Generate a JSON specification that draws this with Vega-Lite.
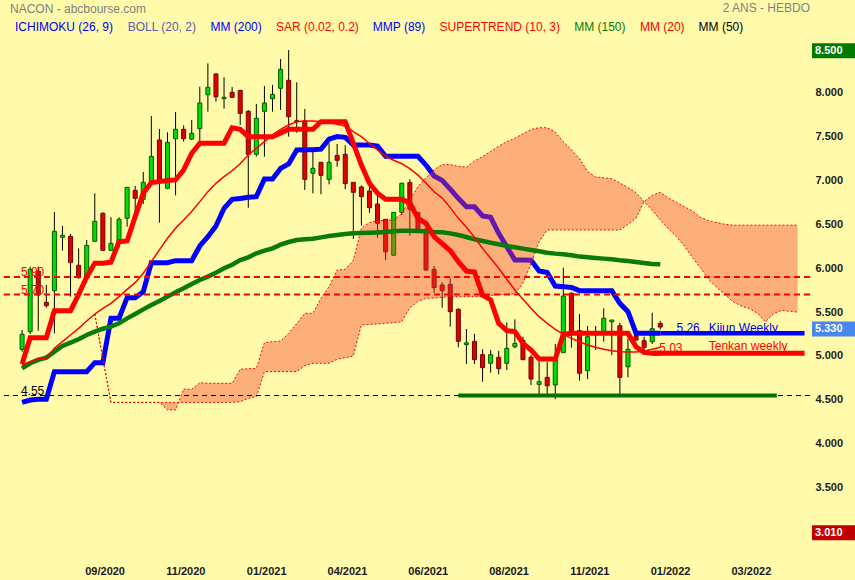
{
  "$schema": "https://vega.github.io/schema/vega-lite/v6.json",
  "width": 810,
  "height": 580,
  "autosize": {"type": "none"},
  "padding": {"left": 0, "top": 0, "right": 45, "bottom": 0},
  "title": {"text": "2 ANS - HEBDO", "anchor": "end", "frame": "group", "offset": -15, "color": "#808080", "fontSize": 12, "fontWeight": "normal", "font": "Liberation Sans"},
  "config": {
    "background": "#fffbaa",
    "view": {"stroke": null},
    "font": "Liberation Sans",
    "axis": {"grid": false, "domain": false, "ticks": false, "labelFont": "Liberation Sans", "labelFontSize": 11, "labelFontWeight": "bold", "labelColor": "#1a1a1a", "title": null}
  },
  "datasets": {
    "weeks": [
      {"d":"2020-06-29","o":5.076,"h":5.296,"l":5.049,"c":5.247,"tk":4.909,"kj":4.472,"m20":4.897,"m150":4.86},
      {"d":"2020-07-06","o":5.277,"h":6.017,"l":5.251,"c":5.987,"tk":5.209,"kj":4.499,"m20":4.935,"m150":4.917},
      {"d":"2020-07-13","o":5.968,"h":6.017,"l":5.288,"c":5.695,"tk":5.209,"kj":4.507,"m20":4.973,"m150":4.955},
      {"d":"2020-07-20","o":5.611,"h":5.809,"l":5.55,"c":5.573,"tk":5.209,"kj":4.507,"m20":4.973,"m150":4.981},
      {"d":"2020-07-27","o":5.744,"h":6.64,"l":5.258,"c":6.42,"tk":5.516,"kj":4.822,"m20":5.087,"m150":5.049},
      {"d":"2020-08-03","o":6.352,"h":6.481,"l":6.2,"c":6.375,"tk":5.516,"kj":4.822,"m20":5.163,"m150":5.114},
      {"d":"2020-08-10","o":6.363,"h":6.39,"l":5.676,"c":6.063,"tk":5.516,"kj":4.822,"m20":5.239,"m150":5.152},
      {"d":"2020-08-17","o":6.033,"h":6.226,"l":5.88,"c":5.892,"tk":5.7,"kj":4.822,"m20":5.315,"m150":5.19},
      {"d":"2020-08-24","o":5.896,"h":6.321,"l":5.884,"c":6.26,"tk":5.9,"kj":4.822,"m20":5.399,"m150":5.239},
      {"d":"2020-08-31","o":6.306,"h":6.853,"l":6.3,"c":6.534,"tk":6.056,"kj":4.924,"m20":5.478,"m150":5.277},
      {"d":"2020-09-07","o":6.625,"h":6.636,"l":6.204,"c":6.204,"tk":6.056,"kj":4.924,"m20":5.543,"m150":5.311},
      {"d":"2020-09-14","o":6.204,"h":6.58,"l":6.2,"c":6.283,"tk":6.067,"kj":5.429,"m20":5.6,"m150":5.334},
      {"d":"2020-09-21","o":6.295,"h":6.58,"l":6.238,"c":6.557,"tk":6.302,"kj":5.429,"m20":5.676,"m150":5.372},
      {"d":"2020-09-28","o":6.568,"h":6.921,"l":6.473,"c":6.921,"tk":6.31,"kj":5.664,"m20":5.759,"m150":5.429},
      {"d":"2020-10-05","o":6.887,"h":6.937,"l":6.587,"c":6.796,"tk":6.587,"kj":5.664,"m20":5.835,"m150":5.478},
      {"d":"2020-10-12","o":6.784,"h":7.096,"l":6.731,"c":6.978,"tk":6.853,"kj":5.732,"m20":5.942,"m150":5.531},
      {"d":"2020-10-19","o":6.978,"h":7.733,"l":6.967,"c":7.274,"tk":6.975,"kj":6.063,"m20":6.075,"m150":5.58},
      {"d":"2020-10-26","o":7.46,"h":7.585,"l":6.518,"c":7.001,"tk":6.986,"kj":6.063,"m20":6.208,"m150":5.626},
      {"d":"2020-11-02","o":6.91,"h":7.547,"l":6.9,"c":7.433,"tk":6.998,"kj":6.063,"m20":6.341,"m150":5.676},
      {"d":"2020-11-09","o":7.475,"h":7.779,"l":6.83,"c":7.582,"tk":7.005,"kj":6.086,"m20":6.455,"m150":5.725},
      {"d":"2020-11-16","o":7.582,"h":7.627,"l":7.441,"c":7.475,"tk":7.119,"kj":6.086,"m20":6.55,"m150":5.771},
      {"d":"2020-11-23","o":7.471,"h":7.688,"l":7.46,"c":7.536,"tk":7.309,"kj":6.086,"m20":6.645,"m150":5.82},
      {"d":"2020-11-30","o":7.589,"h":8.067,"l":7.384,"c":7.882,"tk":7.423,"kj":6.253,"m20":6.758,"m150":5.866},
      {"d":"2020-12-07","o":7.976,"h":8.333,"l":7.783,"c":8.06,"tk":7.423,"kj":6.359,"m20":6.872,"m150":5.904},
      {"d":"2020-12-14","o":8.212,"h":8.22,"l":7.897,"c":7.953,"tk":7.423,"kj":6.481,"m20":6.967,"m150":5.949},
      {"d":"2020-12-21","o":7.931,"h":8.174,"l":7.817,"c":7.946,"tk":7.423,"kj":6.682,"m20":7.043,"m150":5.999},
      {"d":"2020-12-28","o":8.003,"h":8.064,"l":7.94,"c":7.946,"tk":7.6,"kj":6.784,"m20":7.11,"m150":6.04},
      {"d":"2021-01-04","o":8.026,"h":8.03,"l":7.631,"c":7.764,"tk":7.582,"kj":6.795,"m20":7.19,"m150":6.093},
      {"d":"2021-01-11","o":7.787,"h":7.8,"l":6.689,"c":7.297,"tk":7.498,"kj":6.807,"m20":7.29,"m150":6.124},
      {"d":"2021-01-18","o":7.297,"h":7.87,"l":7.271,"c":7.707,"tk":7.498,"kj":6.815,"m20":7.366,"m150":6.17},
      {"d":"2021-01-25","o":7.787,"h":8.075,"l":7.271,"c":7.882,"tk":7.498,"kj":7.016,"m20":7.442,"m150":6.2},
      {"d":"2021-02-01","o":7.931,"h":8.087,"l":7.783,"c":7.98,"tk":7.498,"kj":7.016,"m20":7.518,"m150":6.226},
      {"d":"2021-02-08","o":8.049,"h":8.383,"l":7.802,"c":8.265,"tk":7.54,"kj":7.137,"m20":7.582,"m150":6.268},
      {"d":"2021-02-15","o":8.14,"h":8.485,"l":7.498,"c":7.726,"tk":7.582,"kj":7.188,"m20":7.631,"m150":6.298},
      {"d":"2021-02-22","o":7.68,"h":8.117,"l":7.543,"c":7.67,"tk":7.582,"kj":7.347,"m20":7.669,"m150":6.321},
      {"d":"2021-03-01","o":7.677,"h":7.813,"l":6.891,"c":7.012,"tk":7.582,"kj":7.35,"m20":7.677,"m150":6.329},
      {"d":"2021-03-08","o":7.081,"h":7.327,"l":6.853,"c":7.138,"tk":7.582,"kj":7.35,"m20":7.677,"m150":6.336},
      {"d":"2021-03-15","o":7.206,"h":7.21,"l":6.842,"c":7.058,"tk":7.669,"kj":7.356,"m20":7.669,"m150":6.351},
      {"d":"2021-03-22","o":7.012,"h":7.422,"l":6.955,"c":7.206,"tk":7.669,"kj":7.47,"m20":7.66,"m150":6.367},
      {"d":"2021-03-29","o":7.285,"h":7.415,"l":7.156,"c":7.229,"tk":7.669,"kj":7.5,"m20":7.64,"m150":6.378},
      {"d":"2021-04-05","o":7.297,"h":7.4,"l":6.899,"c":6.963,"tk":7.669,"kj":7.49,"m20":7.62,"m150":6.389},
      {"d":"2021-04-12","o":6.978,"h":6.98,"l":6.333,"c":6.864,"tk":7.422,"kj":7.403,"m20":7.555,"m150":6.397},
      {"d":"2021-04-19","o":6.925,"h":6.944,"l":6.484,"c":6.815,"tk":7.175,"kj":7.403,"m20":7.498,"m150":6.4},
      {"d":"2021-04-26","o":6.879,"h":7.024,"l":6.632,"c":6.689,"tk":6.967,"kj":7.403,"m20":7.42,"m150":6.405},
      {"d":"2021-05-03","o":6.731,"h":6.872,"l":6.348,"c":6.511,"tk":6.853,"kj":7.39,"m20":7.347,"m150":6.408},
      {"d":"2021-05-10","o":6.557,"h":6.56,"l":6.093,"c":6.188,"tk":6.784,"kj":7.275,"m20":7.275,"m150":6.412},
      {"d":"2021-05-17","o":6.147,"h":6.64,"l":6.147,"c":6.636,"tk":6.784,"kj":7.275,"m20":7.23,"m150":6.42},
      {"d":"2021-05-24","o":6.636,"h":6.975,"l":6.606,"c":6.967,"tk":6.784,"kj":7.275,"m20":7.19,"m150":6.427},
      {"d":"2021-05-31","o":6.975,"h":7.012,"l":6.37,"c":6.671,"tk":6.743,"kj":7.275,"m20":7.135,"m150":6.427},
      {"d":"2021-06-07","o":6.636,"h":6.64,"l":6.446,"c":6.446,"tk":6.568,"kj":7.275,"m20":7.06,"m150":6.423},
      {"d":"2021-06-14","o":6.446,"h":6.45,"l":5.979,"c":5.979,"tk":6.511,"kj":7.175,"m20":6.97,"m150":6.42},
      {"d":"2021-06-21","o":5.987,"h":6.025,"l":5.721,"c":5.778,"tk":6.359,"kj":7.05,"m20":6.87,"m150":6.412},
      {"d":"2021-06-28","o":5.809,"h":5.839,"l":5.55,"c":5.744,"tk":6.28,"kj":7.0,"m20":6.8,"m150":6.41},
      {"d":"2021-07-05","o":5.816,"h":5.885,"l":5.334,"c":5.505,"tk":6.2,"kj":6.9,"m20":6.69,"m150":6.397},
      {"d":"2021-07-12","o":5.532,"h":5.543,"l":5.099,"c":5.167,"tk":6.074,"kj":6.796,"m20":6.568,"m150":6.378},
      {"d":"2021-07-19","o":5.13,"h":5.308,"l":4.909,"c":5.15,"tk":5.968,"kj":6.701,"m20":6.466,"m150":6.355},
      {"d":"2021-07-26","o":5.167,"h":5.251,"l":4.909,"c":4.958,"tk":5.957,"kj":6.7,"m20":6.352,"m150":6.329},
      {"d":"2021-08-02","o":5.015,"h":5.076,"l":4.707,"c":4.867,"tk":5.695,"kj":6.595,"m20":6.226,"m150":6.31},
      {"d":"2021-08-09","o":4.917,"h":5.068,"l":4.81,"c":5.015,"tk":5.638,"kj":6.58,"m20":6.113,"m150":6.29},
      {"d":"2021-08-16","o":4.985,"h":5.057,"l":4.791,"c":4.856,"tk":5.372,"kj":6.397,"m20":5.999,"m150":6.272},
      {"d":"2021-08-23","o":4.917,"h":5.383,"l":4.84,"c":5.087,"tk":5.289,"kj":6.245,"m20":5.874,"m150":6.253},
      {"d":"2021-08-30","o":5.106,"h":5.418,"l":5.087,"c":5.144,"tk":5.277,"kj":6.093,"m20":5.752,"m150":6.238},
      {"d":"2021-09-06","o":5.178,"h":5.22,"l":4.958,"c":4.958,"tk":5.144,"kj":6.093,"m20":5.646,"m150":6.223},
      {"d":"2021-09-13","o":4.985,"h":5.011,"l":4.67,"c":4.738,"tk":5.068,"kj":6.09,"m20":5.543,"m150":6.207},
      {"d":"2021-09-20","o":4.677,"h":4.935,"l":4.556,"c":4.707,"tk":4.966,"kj":5.968,"m20":5.448,"m150":6.192},
      {"d":"2021-09-27","o":4.757,"h":4.935,"l":4.556,"c":4.662,"tk":4.966,"kj":5.95,"m20":5.372,"m150":6.177},
      {"d":"2021-10-04","o":4.67,"h":5.137,"l":4.507,"c":4.962,"tk":4.966,"kj":5.797,"m20":5.304,"m150":6.166},
      {"d":"2021-10-11","o":5.038,"h":6.006,"l":5.038,"c":5.683,"tk":5.247,"kj":5.79,"m20":5.25,"m150":6.158},
      {"d":"2021-10-18","o":5.714,"h":5.725,"l":5.095,"c":5.258,"tk":5.258,"kj":5.78,"m20":5.201,"m150":6.147},
      {"d":"2021-10-25","o":5.289,"h":5.478,"l":4.719,"c":4.803,"tk":5.258,"kj":5.744,"m20":5.163,"m150":6.132},
      {"d":"2021-11-01","o":4.833,"h":5.342,"l":4.738,"c":5.22,"tk":5.258,"kj":5.744,"m20":5.125,"m150":6.124},
      {"d":"2021-11-08","o":5.24,"h":5.342,"l":5.068,"c":5.27,"tk":5.258,"kj":5.744,"m20":5.099,"m150":6.117},
      {"d":"2021-11-15","o":5.265,"h":5.543,"l":5.163,"c":5.429,"tk":5.258,"kj":5.744,"m20":5.076,"m150":6.109},
      {"d":"2021-11-22","o":5.39,"h":5.41,"l":5.011,"c":5.41,"tk":5.258,"kj":5.744,"m20":5.061,"m150":6.101},
      {"d":"2021-11-29","o":5.345,"h":5.379,"l":4.556,"c":4.757,"tk":5.258,"kj":5.6,"m20":5.049,"m150":6.09},
      {"d":"2021-12-06","o":4.878,"h":5.201,"l":4.757,"c":5.076,"tk":5.258,"kj":5.505,"m20":5.045,"m150":6.082},
      {"d":"2021-12-13","o":5.231,"h":5.26,"l":5.17,"c":5.182,"tk":5.106,"kj":5.26,"m20":5.045,"m150":6.071},
      {"d":"2021-12-20","o":5.174,"h":5.22,"l":5.011,"c":5.095,"tk":5.042,"kj":5.26,"m20":5.057,"m150":6.059},
      {"d":"2021-12-27","o":5.163,"h":5.493,"l":5.137,"c":5.311,"tk":5.03,"kj":5.26,"m20":5.076,"m150":6.048},
      {"d":"2022-01-03","o":5.372,"h":5.399,"l":5.304,"c":5.33,"tk":5.03,"kj":5.26,"m20":5.099,"m150":6.044}
    ],
    "cloud": [
      {"d":"2020-08-31","a":5.478,"b":5.478},{"d":"2020-09-07","a":4.97,"b":4.97},
      {"d":"2020-09-14","a":4.472,"b":4.472},{"d":"2020-09-21","a":4.472,"b":4.472},
      {"d":"2020-09-28","a":4.472,"b":4.472},{"d":"2020-10-05","a":4.472,"b":4.472},
      {"d":"2020-10-12","a":4.472,"b":4.472},{"d":"2020-10-19","a":4.472,"b":4.472},
      {"d":"2020-10-26","a":4.472,"b":4.472},{"d":"2020-11-02","a":4.472,"b":4.385},
      {"d":"2020-11-09","a":4.472,"b":4.385},{"d":"2020-11-16","a":4.472,"b":4.624},
      {"d":"2020-11-23","a":4.472,"b":4.62},{"d":"2020-11-30","a":4.472,"b":4.696},
      {"d":"2020-12-07","a":4.472,"b":4.69},{"d":"2020-12-14","a":4.472,"b":4.689},
      {"d":"2020-12-21","a":4.472,"b":4.689},{"d":"2020-12-28","a":4.472,"b":4.689},
      {"d":"2021-01-04","a":4.48,"b":4.848},{"d":"2021-01-11","a":4.518,"b":4.855},
      {"d":"2021-01-18","a":4.537,"b":4.859},{"d":"2021-01-25","a":4.822,"b":5.152},
      {"d":"2021-02-01","a":4.822,"b":5.163},{"d":"2021-02-08","a":4.822,"b":5.17},
      {"d":"2021-02-15","a":4.822,"b":5.26},{"d":"2021-02-22","a":4.822,"b":5.37},
      {"d":"2021-03-01","a":4.89,"b":5.486},{"d":"2021-03-08","a":4.917,"b":5.486},
      {"d":"2021-03-15","a":4.917,"b":5.657},{"d":"2021-03-22","a":4.917,"b":5.79},
      {"d":"2021-03-29","a":4.963,"b":5.979},{"d":"2021-04-05","a":4.98,"b":5.987},
      {"d":"2021-04-12","a":5.0,"b":6.09},{"d":"2021-04-19","a":5.353,"b":6.455},
      {"d":"2021-04-26","a":5.36,"b":6.52},{"d":"2021-05-03","a":5.365,"b":6.54},
      {"d":"2021-05-10","a":5.372,"b":6.545},{"d":"2021-05-17","a":5.38,"b":6.549},
      {"d":"2021-05-24","a":5.39,"b":6.62},{"d":"2021-05-31","a":5.55,"b":6.78},
      {"d":"2021-06-07","a":5.62,"b":6.93},{"d":"2021-06-14","a":5.657,"b":7.03},
      {"d":"2021-06-21","a":5.66,"b":7.12},{"d":"2021-06-28","a":5.668,"b":7.18},
      {"d":"2021-07-05","a":5.676,"b":7.18},{"d":"2021-07-12","a":5.676,"b":7.16},
      {"d":"2021-07-19","a":5.676,"b":7.15},{"d":"2021-07-26","a":5.676,"b":7.22},
      {"d":"2021-08-02","a":5.676,"b":7.27},{"d":"2021-08-09","a":5.69,"b":7.33},
      {"d":"2021-08-16","a":5.7,"b":7.39},{"d":"2021-08-23","a":5.7,"b":7.44},
      {"d":"2021-08-30","a":5.71,"b":7.48},{"d":"2021-09-06","a":5.83,"b":7.53},
      {"d":"2021-09-13","a":6.05,"b":7.58},{"d":"2021-09-20","a":6.3,"b":7.6},
      {"d":"2021-09-27","a":6.435,"b":7.6},{"d":"2021-10-04","a":6.435,"b":7.55},
      {"d":"2021-10-11","a":6.435,"b":7.44},{"d":"2021-10-18","a":6.435,"b":7.35},
      {"d":"2021-10-25","a":6.435,"b":7.25},{"d":"2021-11-01","a":6.435,"b":7.1},
      {"d":"2021-11-08","a":6.435,"b":7.04},{"d":"2021-11-15","a":6.435,"b":7.03},
      {"d":"2021-11-22","a":6.435,"b":7.02},{"d":"2021-11-29","a":6.435,"b":6.97},
      {"d":"2021-12-06","a":6.5,"b":6.92},{"d":"2021-12-13","a":6.57,"b":6.86},
      {"d":"2021-12-20","a":6.76,"b":6.76},{"d":"2021-12-27","a":6.83,"b":6.66},
      {"d":"2022-01-03","a":6.864,"b":6.55},{"d":"2022-01-10","a":6.8,"b":6.45},
      {"d":"2022-01-17","a":6.75,"b":6.36},{"d":"2022-01-24","a":6.7,"b":6.25},
      {"d":"2022-01-31","a":6.65,"b":6.12},{"d":"2022-02-07","a":6.58,"b":6.0},
      {"d":"2022-02-14","a":6.54,"b":5.87},{"d":"2022-02-21","a":6.52,"b":5.78},
      {"d":"2022-02-28","a":6.5,"b":5.7},{"d":"2022-03-07","a":6.49,"b":5.62},
      {"d":"2022-03-14","a":6.49,"b":5.57},{"d":"2022-03-21","a":6.49,"b":5.54},
      {"d":"2022-03-28","a":6.49,"b":5.49},{"d":"2022-04-04","a":6.49,"b":5.39},
      {"d":"2022-04-11","a":6.49,"b":5.48},{"d":"2022-04-18","a":6.49,"b":5.52},
      {"d":"2022-04-25","a":6.49,"b":5.51},{"d":"2022-05-02","a":6.49,"b":5.5}
    ]
  },
  "layer": [
    {
      "data": {"name": "weeks"},
      "mark": {"type": "rule", "color": "#000000", "strokeWidth": 1},
      "encoding": {
        "x": {"field": "d", "type": "temporal",
          "scale": {"type": "utc", "domain": [{"year": 2020, "month": 6, "date": 14, "hours": 4, "minutes": 48, "utc": true}, {"year": 2022, "month": 5, "date": 8, "hours": 9, "minutes": 36, "utc": true}]},
          "axis": {"orient": "bottom", "offset": -17, "labelPadding": 2,
            "labelExpr": "utcFormat(datum.value, '%m/%Y')",
            "values": [
              {"year": 2020, "month": 9, "date": 8, "hours": 12, "utc": true},
              {"year": 2020, "month": 11, "date": 17, "hours": 12, "utc": true},
              {"year": 2021, "month": 1, "date": 26, "hours": 12, "utc": true},
              {"year": 2021, "month": 4, "date": 6, "hours": 12, "utc": true},
              {"year": 2021, "month": 6, "date": 15, "hours": 12, "utc": true},
              {"year": 2021, "month": 8, "date": 24, "hours": 12, "utc": true},
              {"year": 2021, "month": 11, "date": 2, "hours": 12, "utc": true},
              {"year": 2022, "month": 1, "date": 11, "hours": 12, "utc": true},
              {"year": 2022, "month": 3, "date": 22, "hours": 12, "utc": true}
            ]}},
        "y": {"field": "l", "type": "quantitative",
          "scale": {"domain": [2.4487, 9.0547], "nice": false, "zero": false},
          "axis": {"orient": "right", "labelPadding": 5, "labelAlign": "left", "format": ".3f", "values": [3.5, 4, 4.5, 5, 5.5, 6, 6.5, 7, 7.5, 8]}},
        "y2": {"field": "h"}
      }
    },
    {
      "data": {"name": "weeks"},
      "mark": {"type": "bar", "width": 4, "strokeWidth": 1},
      "encoding": {
        "x": {"field": "d", "type": "temporal"},
        "y": {"field": "o", "type": "quantitative"},
        "y2": {"field": "c"},
        "fill": {"condition": {"test": "datum.c >= datum.o", "value": "#00dd00"}, "value": "#e00000"},
        "stroke": {"condition": {"test": "datum.c >= datum.o", "value": "#005a00"}, "value": "#700000"}
      }
    },
    {
      "data": {"name": "weeks"},
      "mark": {"type": "line", "color": "#0000ff", "strokeWidth": 5},
      "encoding": {
        "x": {"field": "d", "type": "temporal"},
        "y": {"field": "kj", "type": "quantitative"}
      }
    },
    {
      "data": {"values": [{"from": "2022-01-03", "to": "2022-05-08", "p": 5.26}]},
      "mark": {"type": "rule", "color": "#0000ff", "strokeWidth": 4.5},
      "encoding": {
        "x": {"field": "from", "type": "temporal"},
        "x2": {"field": "to"},
        "y": {"field": "p", "type": "quantitative"}
      }
    },
    {
      "data": {"name": "cloud"},
      "mark": {"type": "area", "color": "#f73f2d", "opacity": 0.4},
      "encoding": {
        "x": {"field": "d", "type": "temporal"},
        "y": {"field": "a", "type": "quantitative"},
        "y2": {"field": "b"}
      }
    },
    {
      "data": {"name": "cloud"},
      "mark": {"type": "line", "color": "#ff0000", "strokeWidth": 1, "strokeDash": [2, 2]},
      "encoding": {
        "x": {"field": "d", "type": "temporal"},
        "y": {"field": "a", "type": "quantitative"}
      }
    },
    {
      "data": {"name": "cloud"},
      "mark": {"type": "line", "color": "#ff0000", "strokeWidth": 1, "strokeDash": [2, 2]},
      "encoding": {
        "x": {"field": "d", "type": "temporal"},
        "y": {"field": "b", "type": "quantitative"}
      }
    },
    {
      "data": {"name": "weeks"},
      "mark": {"type": "line", "strokeWidth": 4.5},
      "encoding": {
        "x": {"field": "d", "type": "temporal"},
        "y": {"field": "m150", "type": "quantitative"},
        "color": {"datum": "MM (150)", "type": "nominal",
          "scale": {
            "domain": ["ICHIMOKU (26, 9)", "BOLL (20, 2)", "MM (200)", "SAR (0.02, 0.2)", "MMP (89)", "SUPERTREND (10, 3)", "MM (150)", "MM (20)", "MM (50)"],
            "range": ["#0000ee", "#5a5aaa", "#0000ff", "#ff0000", "#0000ff", "#ff0000", "#0a7a0a", "#ff0000", "#000000"]},
          "legend": {
            "title": "NACON - abcbourse.com",
            "orient": "none", "legendX": 10, "legendY": 4,
            "direction": "horizontal", "columns": 9, "gridAlign": "none",
            "symbolSize": 1, "symbolOpacity": 0, "symbolStrokeWidth": 0,
            "labelOffset": -7, "columnPadding": 8.7, "labelLimit": 0,
            "labelFont": "Liberation Sans", "labelFontSize": 12,
            "titleFont": "Liberation Sans", "titleFontSize": 12, "titleFontWeight": "normal", "titleColor": "#808080", "titlePadding": 5,
            "encode": {"labels": {"update": {"fill": {"scale": "color", "field": "value"}}}}
          }}
      }
    },
    {
      "data": {"name": "weeks"},
      "mark": {"type": "line", "color": "#ff0000", "strokeWidth": 1.5},
      "encoding": {
        "x": {"field": "d", "type": "temporal"},
        "y": {"field": "m20", "type": "quantitative"}
      }
    },
    {
      "data": {"name": "weeks"},
      "mark": {"type": "line", "color": "#ff0000", "strokeWidth": 5},
      "encoding": {
        "x": {"field": "d", "type": "temporal"},
        "y": {"field": "tk", "type": "quantitative"}
      }
    },
    {
      "data": {"values": [{"from": "2021-12-27", "to": "2022-05-08", "p": 5.03}]},
      "mark": {"type": "rule", "color": "#ff0000", "strokeWidth": 5},
      "encoding": {
        "x": {"field": "from", "type": "temporal"},
        "x2": {"field": "to"},
        "y": {"field": "p", "type": "quantitative"}
      }
    },
    {
      "data": {"values": [{"p": 5.9}, {"p": 5.7}]},
      "mark": {"type": "rule", "color": "#ff0000", "strokeWidth": 2, "strokeDash": [6, 4]},
      "encoding": {"y": {"field": "p", "type": "quantitative"}}
    },
    {
      "data": {"values": [{"p": 4.55}]},
      "mark": {"type": "rule", "color": "#000000", "strokeWidth": 1, "strokeDash": [5, 4]},
      "encoding": {"y": {"field": "p", "type": "quantitative"}}
    },
    {
      "data": {"values": [{"from": "2021-07-12", "to": "2022-04-14", "p": 4.55}]},
      "mark": {"type": "rule", "color": "#007000", "strokeWidth": 4},
      "encoding": {
        "x": {"field": "from", "type": "temporal"},
        "x2": {"field": "to"},
        "y": {"field": "p", "type": "quantitative"}
      }
    },
    {
      "data": {"values": [
        {"t": "5.90", "d": "2020-06-28", "p": 5.9},
        {"t": "5.70", "d": "2020-06-28", "p": 5.7},
        {"t": "5.03", "d": "2022-01-02", "p": 5.03},
        {"t": "Tenkan weekly", "d": "2022-02-14", "p": 5.06}
      ]},
      "mark": {"type": "text", "align": "left", "baseline": "alphabetic", "fontSize": 12, "color": "#ff0000", "dy": -1},
      "encoding": {
        "x": {"field": "d", "type": "temporal"},
        "y": {"field": "p", "type": "quantitative"},
        "text": {"field": "t"}
      }
    },
    {
      "data": {"values": [
        {"t": "5.26", "d": "2022-01-17", "p": 5.26},
        {"t": "Kijun Weekly", "d": "2022-02-14", "p": 5.26}
      ]},
      "mark": {"type": "text", "align": "left", "baseline": "alphabetic", "fontSize": 12, "color": "#0000ee", "dy": -1},
      "encoding": {
        "x": {"field": "d", "type": "temporal"},
        "y": {"field": "p", "type": "quantitative"},
        "text": {"field": "t"}
      }
    },
    {
      "data": {"values": [{"t": "4.55", "d": "2020-06-28", "p": 4.55}]},
      "mark": {"type": "text", "align": "left", "baseline": "alphabetic", "fontSize": 12, "color": "#000000", "dy": -1},
      "encoding": {
        "x": {"field": "d", "type": "temporal"},
        "y": {"field": "p", "type": "quantitative"},
        "text": {"field": "t"}
      }
    },
    {
      "data": {"values": [
        {"v": 8.5, "t": "8.500", "kind": "max"},
        {"v": 5.33, "t": "5.330", "kind": "last"},
        {"v": 3.01, "t": "3.010", "kind": "min"}
      ]},
      "mark": {"type": "rect", "clip": false, "xOffset": 2, "x2Offset": 45, "yOffset": -5.5, "y2Offset": 9.5},
      "encoding": {
        "x": {"value": "width"},
        "x2": {"value": "width"},
        "y": {"field": "v", "type": "quantitative"},
        "y2": {"field": "v"},
        "fill": {"field": "kind", "type": "nominal", "scale": {"domain": ["max", "last", "min"], "range": ["#007a00", "#4a86f0", "#c00000"]}, "legend": null}
      }
    },
    {
      "data": {"values": [
        {"v": 8.5, "t": "8.500"},
        {"v": 5.33, "t": "5.330"},
        {"v": 3.01, "t": "3.010"}
      ]},
      "mark": {"type": "text", "clip": false, "align": "left", "baseline": "middle", "dx": 5, "dy": 2, "fontSize": 11, "fontWeight": "bold", "color": "#ffffff"},
      "encoding": {
        "x": {"value": "width"},
        "y": {"field": "v", "type": "quantitative"},
        "text": {"field": "t"}
      }
    }
  ]
}
